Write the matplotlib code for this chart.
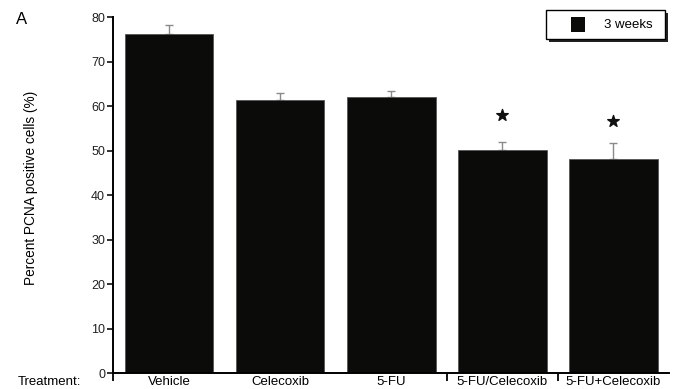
import matplotlib.pyplot as plt
from matplotlib.patches import Rectangle
import numpy as np

plt.rcParams['font.family'] = ['Liberation Sans', 'DejaVu Sans']

# data
treatments = ['Vehicle', 'Celecoxib', '5-FU', '5-FU/Celecoxib', '5-FU+Celecoxib']
pcna = [76.1, 61.4, 62.0, 50.2, 48.0]
sem = [2.2, 1.5, 1.3, 1.8, 3.6]
star_y = [None, None, None, 58.0, 56.6]

W, H = 679, 389
fig = plt.figure(figsize=(6.79, 3.89), dpi=100)
ax = fig.add_axes([0.167, 0.041, 0.818, 0.915])

x = np.arange(len(treatments))
ax.bar(x, pcna, width=0.8, color='#0b0c0a', edgecolor='#555555', linewidth=0.6, zorder=2)
ax.errorbar(x, pcna, yerr=[np.zeros(len(sem)), sem], fmt='none', ecolor='#8a8a8a',
            elinewidth=1.0, capsize=3, capthick=1.0, zorder=1)

# significance stars
for xi, sy in zip(x, star_y):
    if sy is not None:
        ax.scatter(xi, sy, marker='*', s=75, color='#111111', zorder=3)

ax.set_xlim(-0.5, 4.5)
ax.set_ylim(0, 80)
ax.set_yticks(range(0, 81, 10))
ax.set_xticks(x)
ax.set_xticklabels(treatments)
ax.set_xticks([-0.5, 2.5, 3.5], minor=True)
ax.tick_params(axis='x', which='major', length=0, labelsize=9.5, pad=2)
ax.tick_params(axis='x', which='minor', length=6, width=1.3)
ax.tick_params(axis='y', length=4, width=1.3, labelsize=9, pad=2, colors='#222222')

for s in ['top', 'right']:
    ax.spines[s].set_visible(False)
ax.spines['left'].set_linewidth(1.4)
ax.spines['bottom'].set_linewidth(1.4)

ax.set_ylabel('Percent PCNA positive cells (%)', fontsize=9.8, va='center')
ax.yaxis.set_label_coords(-0.149, 0.52)

fig.text(49 / W, 1 - 382 / H, 'Treatment:', fontsize=9.5, ha='center', va='center')
fig.text(22 / W, 1 - 20 / H, 'A', fontsize=12, ha='center', va='center')

# legend box with drop shadow, drawn in figure pixels
def px(x0, y0, w, h):
    return (x0 / W, 1 - (y0 + h) / H), w / W, h / H

xy, w, h = px(549, 13, 119, 29)
fig.add_artist(Rectangle(xy, w, h, transform=fig.transFigure, facecolor='#222222',
                         edgecolor='none', zorder=5))
xy, w, h = px(546, 10, 119, 29)
fig.add_artist(Rectangle(xy, w, h, transform=fig.transFigure, facecolor='white',
                         edgecolor='black', linewidth=1.0, zorder=6))
xy, w, h = px(571, 17, 14, 15)
fig.add_artist(Rectangle(xy, w, h, transform=fig.transFigure, facecolor='#0b0c0a',
                         edgecolor='none', zorder=7))
fig.text(628 / W, 1 - 25 / H, '3 weeks', fontsize=9.5, ha='center', va='center', zorder=7)

plt.savefig('out.png', dpi=100)
